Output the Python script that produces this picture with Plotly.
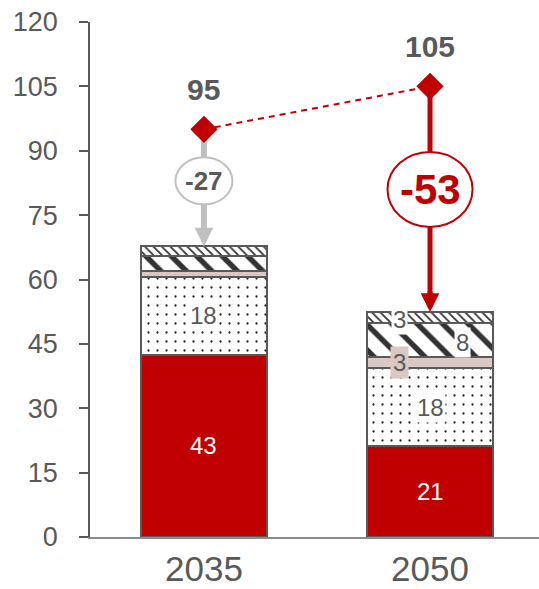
import plotly.graph_objects as go

# ---------------- data ----------------
years = ["2035", "2050"]
x_pos = [0, 1]
seg_red = [42.5, 21.2]
seg_dots = [18.2, 18.1]
seg_pink = [1.2, 2.6]
seg_hatch = [3.5, 7.9]
seg_fine = [2.3, 2.6]
ref_values = [95, 105]
ref_labels = ["95", "105"]
change_labels = ["-27", "-53"]
red_labels = ["43", "21"]
dots_labels = ["18", "18"]
pink_labels = [None, "3"]
hatch_labels = [None, "8"]
fine_labels = [None, "3"]
y_ticks = [0, 15, 30, 45, 60, 75, 90, 105, 120]

# ---------------- style ----------------
FONT = "Liberation Sans, Arial, Helvetica, sans-serif"
GRAY_TXT = "#595959"
RED = "#c00000"
LIGHT_GRAY = "#c0c0c0"
PINK = "#d9c8c3"
OUTLINE = dict(color="#595959", width=2)
BAR_W = 0.557
LABEL_Y = [83, 81]          # vertical position of the change bubbles
BUBBLE = [(57, 47), (85, 75)]

segments = [seg_red, seg_dots, seg_pink, seg_hatch, seg_fine]
totals = [sum(s[i] for s in segments) for i in range(len(years))]

fig = go.Figure()

fig.add_trace(go.Bar(x=x_pos, y=seg_red, width=BAR_W, marker=dict(color=RED, line=OUTLINE)))
fig.add_trace(go.Bar(x=x_pos, y=seg_dots, width=BAR_W,
                     marker=dict(color="white", line=OUTLINE,
                                 pattern=dict(shape=".", fgcolor="#222222", bgcolor="white",
                                              fgopacity=1, size=9, solidity=0.05))))
fig.add_trace(go.Bar(x=x_pos, y=seg_pink, width=BAR_W, marker=dict(color=PINK, line=OUTLINE)))
fig.add_trace(go.Bar(x=x_pos, y=seg_hatch, width=BAR_W,
                     marker=dict(color="white", line=OUTLINE,
                                 pattern=dict(shape="\\", fgcolor="#333333", bgcolor="white",
                                              fgopacity=1, size=18, solidity=0.3))))
fig.add_trace(go.Bar(x=x_pos, y=seg_fine, width=BAR_W,
                     marker=dict(color="white", line=OUTLINE,
                                 pattern=dict(shape="\\", fgcolor="#333333", bgcolor="white",
                                              fgopacity=1, size=6, solidity=0.3))))

# vertical arrow shafts
arrow_cols = [LIGHT_GRAY, RED]
arrow_w = [6, 5]
for i in range(len(years)):
    fig.add_trace(go.Scatter(x=[x_pos[i], x_pos[i]], y=[ref_values[i], totals[i] + 3],
                             mode="lines", line=dict(color=arrow_cols[i], width=arrow_w[i]),
                             hoverinfo="skip"))

# dashed connector and diamonds
fig.add_trace(go.Scatter(x=x_pos, y=ref_values, mode="lines",
                         line=dict(color=RED, width=2, dash="6px,5px"), hoverinfo="skip"))
fig.add_trace(go.Scatter(x=x_pos, y=ref_values, mode="markers",
                         marker=dict(symbol="diamond", size=21, color=RED), hoverinfo="skip"))

annotations = []
shapes = []
for i in range(len(years)):
    # arrowhead
    annotations.append(dict(x=x_pos[i], y=totals[i], xref="x", yref="y", ax=0, ay=-22,
                            text="", showarrow=True, arrowhead=2, arrowcolor=arrow_cols[i],
                            arrowwidth=arrow_w[i], arrowsize=0.75 if i == 1 else 0.62))
    # reference value label
    annotations.append(dict(x=x_pos[i], y=ref_values[i], xref="x", yref="y", yshift=40,
                            text="<b>%s</b>" % ref_labels[i], showarrow=False,
                            font=dict(size=30, color=GRAY_TXT, family=FONT)))
    # bubble
    w, h = BUBBLE[i]
    shapes.append(dict(type="circle", xref="x", yref="y", xsizemode="pixel", ysizemode="pixel",
                       xanchor=x_pos[i], yanchor=LABEL_Y[i], x0=-w / 2, x1=w / 2, y0=-h / 2, y1=h / 2,
                       fillcolor="white", line=dict(color=arrow_cols[i], width=2), layer="above"))
    annotations.append(dict(x=x_pos[i], y=LABEL_Y[i], xref="x", yref="y",
                            text="<b>%s</b>" % change_labels[i], showarrow=False,
                            font=dict(size=26 if i == 0 else 42,
                                      color=GRAY_TXT if i == 0 else RED, family=FONT)))
    # segment labels
    base = 0
    annotations.append(dict(x=x_pos[i], y=base + seg_red[i] / 2, xref="x", yref="y",
                            text=red_labels[i], showarrow=False,
                            font=dict(size=24, color="white", family=FONT)))
    base += seg_red[i]
    annotations.append(dict(x=x_pos[i], y=base + seg_dots[i] / 2, xref="x", yref="y",
                            text=dots_labels[i], showarrow=False, bgcolor="white",
                            font=dict(size=24, color=GRAY_TXT, family=FONT)))
    base += seg_dots[i]
    if pink_labels[i]:
        annotations.append(dict(x=x_pos[i], y=base + seg_pink[i] / 2, xref="x", yref="y",
                                xshift=-31, text=pink_labels[i], showarrow=False, bgcolor=PINK,
                                borderpad=2, font=dict(size=24, color=GRAY_TXT, family=FONT)))
    base += seg_pink[i]
    if hatch_labels[i]:
        annotations.append(dict(x=x_pos[i], y=base + seg_hatch[i] / 2, xref="x", yref="y",
                                xshift=32, yshift=-2, text=hatch_labels[i], showarrow=False,
                                bgcolor="white", font=dict(size=24, color=GRAY_TXT, family=FONT)))
    base += seg_hatch[i]
    if fine_labels[i]:
        annotations.append(dict(x=x_pos[i], y=base + seg_fine[i] / 2, xref="x", yref="y",
                                xshift=-31, yshift=-2, text=fine_labels[i], showarrow=False,
                                bgcolor="white", font=dict(size=24, color=GRAY_TXT, family=FONT)))

fig.update_layout(
    width=539, height=589,
    margin=dict(l=90, r=0, t=22, b=52, autoexpand=False),
    barmode="stack", showlegend=False,
    paper_bgcolor="white", plot_bgcolor="white",
    font=dict(family=FONT, color=GRAY_TXT),
    annotations=annotations, shapes=shapes,
    xaxis=dict(range=[-0.504, 1.482], tickvals=x_pos, ticktext=years, showgrid=False,
               zeroline=False, showline=True, linecolor="#8c8c8c", linewidth=2,
               ticks="", tickfont=dict(size=35, color=GRAY_TXT, family=FONT),
               ticklabelstandoff=0, fixedrange=True, automargin=False),
    yaxis=dict(range=[0, 120], tickvals=y_ticks, showgrid=False, zeroline=False,
               showline=True, linecolor="#595959", linewidth=1.5, ticks="outside",
               ticklen=9, tickcolor="#595959", tickwidth=1.5,
               tickfont=dict(size=27, color=GRAY_TXT, family=FONT),
               ticklabelstandoff=16, fixedrange=True, automargin=False),
)

fig.write_html("out.html")
